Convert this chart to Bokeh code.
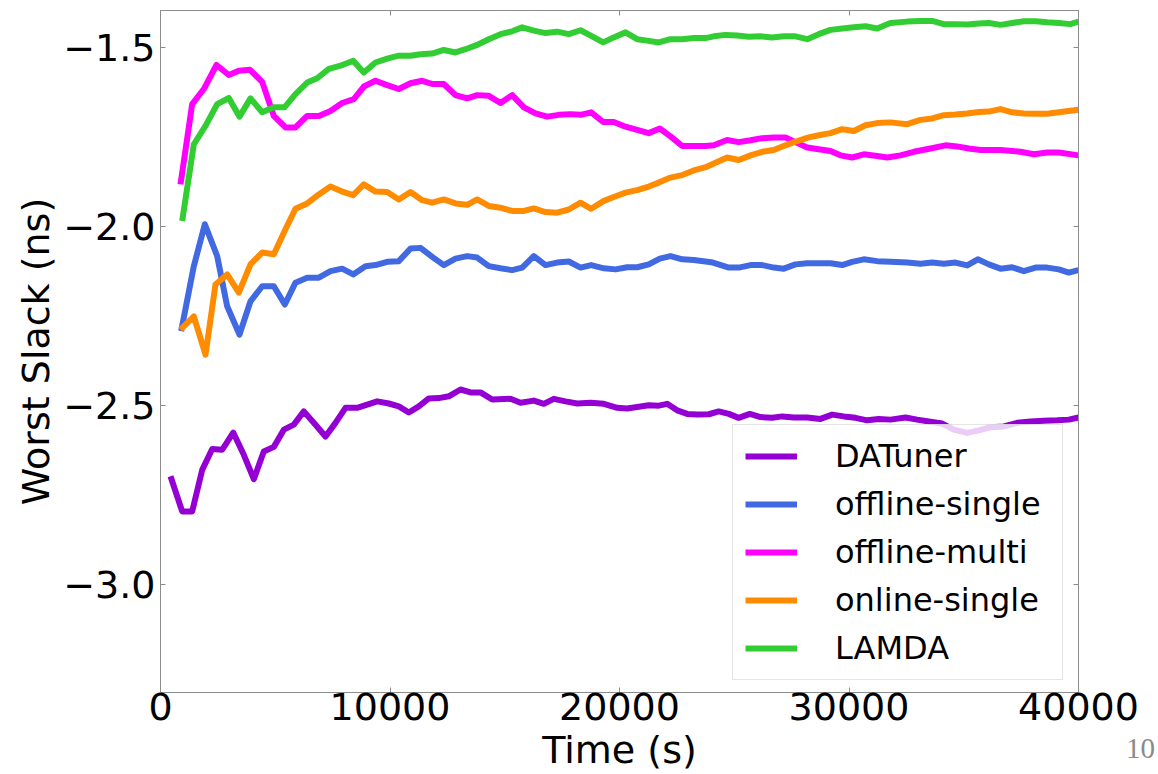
from bokeh.plotting import figure
from bokeh.models import (Legend, LegendItem, FixedTicker, CustomJSTickFormatter,
                          LinearAxis, Range1d, Div)
from bokeh.layouts import column
from bokeh.embed import file_html
from bokeh.resources import INLINE

# ---- data: worst slack (ns) over tuning time (s) ----
datuner_t = [436, 945, 1381, 1817, 2253, 2688, 3168, 3630, 4066, 4501, 4938, 5373, 5809, 6245,
             6754, 7189, 7625, 8061, 8570, 9006, 9442, 9949, 10384, 10820, 11256, 11692, 12127,
             12563, 13072, 13508, 13943, 14453, 15251, 15686, 16266, 16702, 17137, 17647, 18156,
             18736, 19318, 19899, 20334, 20770, 21276, 21712, 22077, 22513, 22949, 23384, 23890,
             24326, 24762, 25197, 25677, 26143, 26653, 27089, 27595, 28178, 28758, 29268, 29773,
             30283, 30792, 31297, 31808, 32462, 32971, 33480, 34061, 34566, 35150, 35656, 36166,
             36746, 37327, 37907, 38487, 39069, 39577, 40000]
datuner_y = [-2.697, -2.795, -2.795, -2.679, -2.621, -2.623, -2.575, -2.637, -2.705, -2.628,
             -2.615, -2.567, -2.553, -2.516, -2.553, -2.586, -2.548, -2.506, -2.506, -2.497,
             -2.488, -2.494, -2.502, -2.519, -2.502, -2.480, -2.479, -2.474, -2.455, -2.463,
             -2.463, -2.483, -2.481, -2.492, -2.486, -2.495, -2.481, -2.488, -2.494, -2.492,
             -2.495, -2.506, -2.508, -2.504, -2.499, -2.500, -2.495, -2.513, -2.523, -2.525,
             -2.524, -2.516, -2.523, -2.534, -2.523, -2.532, -2.534, -2.530, -2.533, -2.533,
             -2.537, -2.525, -2.530, -2.534, -2.541, -2.537, -2.539, -2.533, -2.539, -2.544,
             -2.550, -2.567, -2.576, -2.569, -2.560, -2.558, -2.548, -2.544, -2.542, -2.541,
             -2.539, -2.533]

offline_single_t = [900, 1452, 1932, 2470, 2905, 3442, 3921, 4431, 4938, 5417, 5882, 6391, 6899,
                    7407, 7916, 8396, 8932, 9368, 9877, 10384, 10893, 11329, 11839, 12344, 12854,
                    13363, 13799, 14305, 14815, 15324, 15760, 16266, 16775, 17284, 17791, 18301,
                    18766, 19318, 19826, 20334, 20770, 21276, 21755, 22222, 22732, 23237, 24000,
                    24762, 25197, 25708, 26217, 26723, 27158, 27668, 28178, 28683, 29193, 29703,
                    30138, 30644, 31228, 31808, 32535, 33115, 33625, 34131, 34640, 35150, 35612,
                    36092, 36601, 37111, 37617, 38126, 38636, 39142, 39577, 40000]
offline_single_y = [-2.292, -2.111, -1.994, -2.083, -2.223, -2.302, -2.209, -2.167, -2.167,
                    -2.218, -2.157, -2.143, -2.143, -2.125, -2.118, -2.134, -2.111, -2.108,
                    -2.099, -2.097, -2.062, -2.060, -2.085, -2.108, -2.090, -2.083, -2.087,
                    -2.111, -2.117, -2.122, -2.115, -2.083, -2.108, -2.101, -2.098, -2.115,
                    -2.108, -2.117, -2.120, -2.114, -2.114, -2.106, -2.090, -2.083, -2.092,
                    -2.094, -2.100, -2.115, -2.115, -2.108, -2.108, -2.115, -2.118, -2.106,
                    -2.103, -2.103, -2.103, -2.108, -2.099, -2.092, -2.097, -2.099, -2.101,
                    -2.104, -2.101, -2.104, -2.101, -2.109, -2.092, -2.106, -2.118, -2.114,
                    -2.125, -2.115, -2.115, -2.120, -2.129, -2.122]

offline_multi_t = [871, 1380, 1888, 2440, 2977, 3413, 3892, 4431, 4938, 5446, 5882, 6391, 6899,
                   7407, 7916, 8424, 8859, 9368, 9877, 10384, 10893, 11403, 11839, 12344, 12854,
                   13363, 13799, 14305, 14815, 15324, 15833, 16340, 16848, 17355, 17864, 18300,
                   18766, 19289, 19751, 20261, 20770, 21276, 21755, 22222, 22732, 23237, 23747,
                   24108, 24690, 25197, 25708, 26217, 26723, 27233, 27668, 28178, 28683, 29193,
                   29629, 30138, 30644, 31228, 31663, 32244, 32823, 33550, 34204, 34713, 35219,
                   35729, 36160, 36601, 37473, 38054, 38636, 39142, 40000]
offline_multi_y = [-1.883, -1.659, -1.617, -1.550, -1.578, -1.566, -1.563, -1.597, -1.692,
                   -1.724, -1.724, -1.692, -1.692, -1.678, -1.656, -1.645, -1.610, -1.594,
                   -1.606, -1.617, -1.601, -1.594, -1.603, -1.603, -1.634, -1.643, -1.634,
                   -1.636, -1.656, -1.634, -1.668, -1.685, -1.694, -1.689, -1.687, -1.689,
                   -1.682, -1.709, -1.709, -1.722, -1.731, -1.740, -1.727, -1.749, -1.776,
                   -1.776, -1.776, -1.774, -1.759, -1.765, -1.760, -1.754, -1.752, -1.752,
                   -1.765, -1.780, -1.785, -1.790, -1.802, -1.808, -1.799, -1.804, -1.808,
                   -1.802, -1.792, -1.783, -1.774, -1.777, -1.783, -1.787, -1.787, -1.787,
                   -1.792, -1.799, -1.794, -1.794, -1.802]

online_single_t = [871, 1452, 1961, 2396, 2905, 3413, 3921, 4431, 4938, 5446, 5882, 6391, 6899,
                   7407, 7916, 8396, 8859, 9368, 9877, 10384, 10893, 11403, 11839, 12344, 12854,
                   13363, 13799, 14305, 14815, 15324, 15833, 16266, 16775, 17284, 17791, 18301,
                   18766, 19318, 19751, 20261, 20770, 21276, 21712, 22222, 22732, 23237, 23800,
                   24690, 25197, 25708, 26217, 26723, 27233, 27742, 28247, 28683, 29193, 29703,
                   30208, 30718, 31228, 31800, 32535, 33115, 33625, 34131, 34640, 35150, 35656,
                   36092, 36601, 37111, 37617, 38126, 38636, 39142, 40000]
online_single_y = [-2.288, -2.251, -2.358, -2.162, -2.134, -2.185, -2.106, -2.073, -2.078,
                   -2.008, -1.951, -1.936, -1.911, -1.889, -1.903, -1.913, -1.883, -1.903,
                   -1.904, -1.925, -1.904, -1.927, -1.934, -1.925, -1.936, -1.940, -1.925,
                   -1.943, -1.948, -1.957, -1.957, -1.950, -1.960, -1.962, -1.953, -1.934,
                   -1.951, -1.929, -1.918, -1.906, -1.899, -1.889, -1.878, -1.864, -1.857,
                   -1.844, -1.834, -1.808, -1.815, -1.802, -1.792, -1.787, -1.774, -1.762,
                   -1.752, -1.746, -1.740, -1.729, -1.734, -1.718, -1.712, -1.710, -1.715,
                   -1.703, -1.699, -1.690, -1.688, -1.685, -1.681, -1.680, -1.673, -1.682,
                   -1.685, -1.686, -1.686, -1.682, -1.675]

lamda_t = [945, 1452, 1961, 2470, 2977, 3442, 3921, 4431, 4938, 5403, 5882, 6391, 6827, 7336,
           7843, 8396, 8859, 9368, 9877, 10384, 10893, 11329, 11839, 12344, 12854, 13290, 13799,
           14305, 14815, 15324, 15760, 16266, 16775, 17284, 17791, 18301, 18810, 19289, 19751,
           20261, 20770, 21206, 21712, 22222, 22732, 23237, 23747, 24108, 24618, 25127, 25633,
           26143, 26653, 27158, 27668, 28178, 28683, 29193, 29703, 30208, 30718, 31228, 31800,
           32535, 33115, 33625, 34131, 34640, 35150, 35656, 36092, 36601, 37111, 37617, 38126,
           38636, 39142, 39651, 40000]
lamda_y = [-1.985, -1.771, -1.720, -1.659, -1.642, -1.694, -1.643, -1.682, -1.668, -1.668,
           -1.631, -1.599, -1.587, -1.561, -1.552, -1.538, -1.571, -1.543, -1.532, -1.524,
           -1.524, -1.520, -1.518, -1.508, -1.515, -1.506, -1.494, -1.478, -1.464, -1.456,
           -1.445, -1.454, -1.461, -1.457, -1.464, -1.453, -1.470, -1.487, -1.473, -1.459,
           -1.478, -1.482, -1.487, -1.478, -1.478, -1.475, -1.475, -1.470, -1.466, -1.468,
           -1.471, -1.470, -1.473, -1.470, -1.470, -1.478, -1.464, -1.452, -1.448, -1.445,
           -1.442, -1.448, -1.433, -1.429, -1.427, -1.427, -1.436, -1.436, -1.437, -1.434,
           -1.433, -1.438, -1.433, -1.428, -1.428, -1.431, -1.433, -1.436, -1.429]

series_names = ["DATuner", "offline-single", "offline-multi", "online-single", "LAMDA"]
series_colors = ["#9400D3", "#4169E1", "#FF00FF", "#FF8C00", "#32CD32"]
x_ticks = [0, 10000, 20000, 30000, 40000]
y_ticks = [-3.0, -2.5, -2.0, -1.5]

FONT = "DejaVu Sans"
FRAME = "#8c8c8c"

p = figure(width=1158, height=774, output_backend="svg", toolbar_location=None,
           x_range=Range1d(0, 40000), y_range=Range1d(-3.3, -1.398),
           min_border_left=160, min_border_right=80, min_border_top=10,
           min_border_bottom=82, x_axis_label="Time (s)", y_axis_label="Worst Slack (ns)")
p.grid.visible = False
p.outline_line_color = FRAME
p.outline_line_width = 1
p.background_fill_color = "white"
p.border_fill_color = "white"

p.xaxis.ticker = FixedTicker(ticks=x_ticks)
p.xaxis.formatter = CustomJSTickFormatter(code="return tick.toFixed(0);")
p.yaxis.ticker = FixedTicker(ticks=y_ticks)
p.yaxis.formatter = CustomJSTickFormatter(code="return tick.toFixed(1).replace('-', '\u2212');")

for ax in (p.xaxis[0], p.yaxis[0]):
    ax.major_label_text_font = FONT
    ax.major_label_text_font_size = "38px"
    ax.major_label_text_color = "black"
    ax.axis_label_text_font = FONT
    ax.axis_label_text_font_size = "38px"
    ax.axis_label_text_font_style = "normal"
    ax.axis_label_text_color = "black"
    ax.axis_line_color = FRAME
    ax.major_tick_line_color = FRAME
    ax.major_tick_in = 5
    ax.major_tick_out = 0
    ax.minor_tick_line_color = None

p.xaxis.major_label_standoff = 0
p.xaxis.axis_label_standoff = 5
p.yaxis.major_label_standoff = 5
p.yaxis.axis_label_standoff = 2

# tick marks on the top and right edges, no labels
for ticks, side in ((x_ticks, "above"), (y_ticks, "right")):
    ax = LinearAxis(ticker=FixedTicker(ticks=ticks), major_label_text_font_size="1px",
                    major_label_text_alpha=0, major_label_standoff=0,
                    major_tick_in=5, major_tick_out=0, minor_tick_line_color=None,
                    axis_line_color=FRAME, major_tick_line_color=FRAME)
    p.add_layout(ax, side)

series = [(datuner_t, datuner_y), (offline_single_t, offline_single_y),
          (offline_multi_t, offline_multi_y), (online_single_t, online_single_y),
          (lamda_t, lamda_y)]

items = []
for (t, y), name, color in zip(series, series_names, series_colors):
    r = p.line(t, y, line_color=color, line_width=6, line_join="round")
    items.append(LegendItem(label=name, renderers=[r]))

legend = Legend(items=items, location=(572, 12), margin=0, padding=12,
                glyph_width=52, glyph_height=38, label_height=38, label_width=215,
                label_standoff=38, spacing=10,
                label_text_font=FONT, label_text_font_size="32px", label_text_color="black",
                border_line_color="#cccccc", border_line_width=1,
                background_fill_color="white", background_fill_alpha=0.8)
p.add_layout(legend)

# slide page number, pulled up into the lower right corner of the chart
page_number = Div(text="10", width=40, height=36, margin=(-40, 0, 0, 1126),
                  styles={"font-family": "Liberation Serif", "font-size": "29px",
                          "color": "#8a8a8a", "position": "relative", "z-index": "10",
                          "line-height": "1"})

layout = column(p, page_number, spacing=0)
open("out.html", "w").write(file_html(layout, INLINE))
